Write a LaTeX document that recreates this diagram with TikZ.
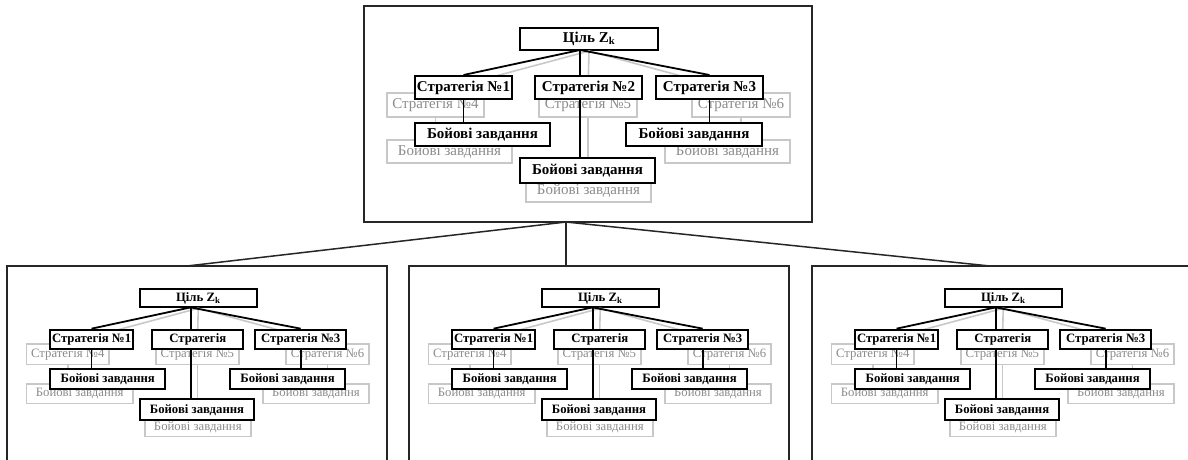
\documentclass[tikz,border=0pt]{standalone}
\usepackage{fontspec}
\setmainfont{Liberation Serif}
\usepackage{xcolor}

\definecolor{ghostline}{RGB}{200,200,200}
\definecolor{ghosttext}{RGB}{140,140,140}

\tikzset{
  frame/.style={draw=black!85, line width=1.5pt},
  mainbox/.style={draw, fill=white, line width=2pt, inner sep=0pt,
    font=\fontsize{15}{18}\selectfont\bfseries},
  ghostbox/.style={draw=ghostline, fill=white, line width=1.6pt, inner sep=0pt,
    text=ghosttext, font=\fontsize{15}{18}\selectfont},
  link/.style={line width=1.8pt},
  ghostlink/.style={draw=ghostline, line width=1.6pt}
}

% one goal tree, #1 = name prefix, #2 = middle strategy
\newcommand{\strattree}[2]{%
\node[mainbox, minimum width=138pt, minimum height=22pt] (#1goal) at (225,33) {Ціль Z\textsubscript{k}};
\coordinate (#1gj) at (216,44);
\node[ghostbox, minimum width=97pt, minimum height=24pt] (#1s4) at (71.5,99) {Стратегія №4};
\node[ghostbox, minimum width=98pt, minimum height=24pt] (#1s5) at (224,99) {Стратегія №5};
\node[ghostbox, minimum width=98pt, minimum height=24pt] (#1s6) at (377,99) {Стратегія №6};
\node[ghostbox, minimum width=125pt, minimum height=23pt] (#1t4) at (85.5,145.5) {Бойові завдання};
\node[ghostbox, minimum width=125pt, minimum height=22pt] (#1t5) at (224.5,185) {Бойові завдання};
\node[ghostbox, minimum width=125pt, minimum height=23pt] (#1t6) at (363.5,145.5) {Бойові завдання};
\draw[ghostlink] (#1goal.south) -- (#1s4.north);
\draw[ghostlink] (#1goal.south) -- (#1s5.north);
\draw[ghostlink] (#1goal.south) -- (#1s6.north);
\draw[ghostlink] (#1s4.south) -- (#1s4.south |- #1t4.north);
\draw[ghostlink] (#1s5.south) -- (#1s5.south |- #1t5.north);
\draw[ghostlink] (#1s6.south) -- (#1s6.south |- #1t6.north);
\node[mainbox, minimum width=97pt, minimum height=23pt] (#1s1) at (99.5,81.5) {Стратегія №1};
\node[mainbox, minimum width=107pt, minimum height=23pt] (#1s2) at (224.5,81.5) {#2};
\node[mainbox, minimum width=107pt, minimum height=23pt] (#1s3) at (345.5,81.5) {Стратегія №3};
\node[mainbox, minimum width=135pt, minimum height=23pt] (#1t1) at (118.5,128.5) {Бойові завдання};
\node[mainbox, minimum width=135pt, minimum height=25pt] (#1t2) at (223.5,164.5) {Бойові завдання};
\node[mainbox, minimum width=136pt, minimum height=23pt] (#1t3) at (330,128.5) {Бойові завдання};
\draw[link] (#1gj) -- (#1s1.north);
\draw[link] (#1gj) -- (#1gj |- #1s2.north);
\draw[link] (#1gj) -- (#1s3.north);
\draw[link] (#1s1.south) -- (#1s1.south |- #1t1.north);
\draw[link] (#1gj |- #1s2.south) -- (#1gj |- #1t2.north);
\draw[link] (#1s3.south) -- (#1s3.south |- #1t3.north);
}

\begin{document}
\begin{tikzpicture}[x=1pt, y=-1pt]
\useasboundingbox (0,0) rectangle (1188,459);
\clip (0,0) rectangle (1188,459);

% frames
\node[frame, minimum width=448pt, minimum height=216pt] (topbox) at (588,114) {};
\node[frame, minimum width=380pt, minimum height=214pt] (leftbox) at (197,373) {};
\node[frame, minimum width=380pt, minimum height=214pt] (midbox) at (599,373) {};
\node[frame, minimum width=380pt, minimum height=214pt] (rightbox) at (1002,373) {};

\coordinate (hub) at (566,222);
\coordinate (leftend) at (187,266);
\coordinate (midend) at (566,266);
\coordinate (rightend) at (990,266);
\draw[frame] (hub) -- (leftend);
\draw[frame] (hub) -- (midend);
\draw[frame] (hub) -- (rightend);

\begin{scope}[shift={(364,6)}]
\strattree{a}{Стратегія №2}
\end{scope}

\begin{scope}[shift={(7,270)}, scale=0.85, transform shape]
\strattree{b}{Стратегія}
\end{scope}

\begin{scope}[shift={(409,270)}, scale=0.85, transform shape]
\strattree{c}{Стратегія}
\end{scope}

\begin{scope}[shift={(812,270)}, scale=0.85, transform shape]
\strattree{d}{Стратегія}
\end{scope}

\end{tikzpicture}
\end{document}
